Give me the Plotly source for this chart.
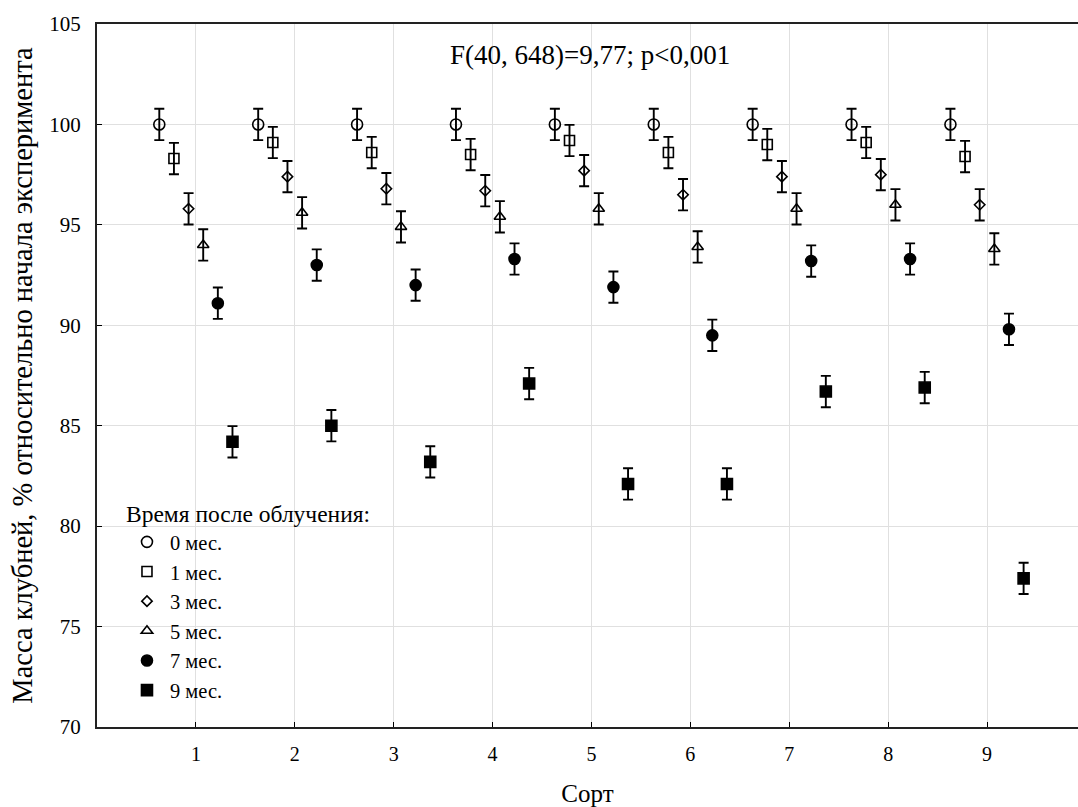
import plotly.graph_objects as go

# ---- data ----
categories = [1, 2, 3, 4, 5, 6, 7, 8, 9]
series_names = ["0 мес.", "1 мес.", "3 мес.", "5 мес.", "7 мес.", "9 мес."]
m0 = [100.0, 100.0, 100.0, 100.0, 100.0, 100.0, 100.0, 100.0, 100.0]
m1 = [98.3, 99.1, 98.6, 98.5, 99.2, 98.6, 99.0, 99.1, 98.4]
m3 = [95.8, 97.4, 96.8, 96.7, 97.7, 96.5, 97.4, 97.5, 96.0]
m5 = [94.0, 95.6, 94.9, 95.4, 95.8, 93.9, 95.8, 96.0, 93.8]
m7 = [91.1, 93.0, 92.0, 93.3, 91.9, 89.5, 93.2, 93.3, 89.8]
m9 = [84.2, 85.0, 83.2, 87.1, 82.1, 82.1, 86.7, 86.9, 77.4]
ci_half = [0.78, 0.78, 0.78, 0.78, 0.78, 0.78]
y_ticks = [70, 75, 80, 85, 90, 95, 100, 105]
stat_text = "F(40, 648)=9,77; p<0,001"
legend_title = "Время после облучения:"
x_title = "Сорт"
y_title = "Масса клубней, % относительно начала эксперимента"

means = [m0, m1, m3, m5, m7, m9]

# ---- styles ----
offsets = [-0.37, -0.222, -0.074, 0.074, 0.222, 0.37]
symbols = ["circle-open", "square-open", "diamond-open", "triangle-up-open", "circle", "square"]
sizes = [11, 10, 8, 10, 11, 11]
FONT = "Liberation Serif, Times New Roman, serif"

fig = go.Figure()
for name, vals, off, sym, sz, e in zip(series_names, means, offsets, symbols, sizes, ci_half):
    fig.add_trace(go.Scatter(
        x=[c + off for c in categories],
        y=vals,
        mode="markers",
        name=name,
        marker=dict(symbol=sym, size=sz, color="black",
                    line=dict(color="black", width=1.6)),
        error_y=dict(type="constant", value=e, color="black",
                     thickness=1.9, width=5),
    ))

fig.add_annotation(
    x=0.5025, y=0.956, xref="paper", yref="paper",
    text=stat_text, showarrow=False,
    xanchor="center", yanchor="middle",
    font=dict(family=FONT, size=27, color="black"),
)

fig.update_layout(
    width=1078, height=807,
    margin=dict(l=97, r=0, t=24, b=80),
    paper_bgcolor="white", plot_bgcolor="white",
    font=dict(family=FONT, color="black"),
    showlegend=True,
    legend=dict(
        x=0.0275, y=0.335, xanchor="left", yanchor="top",
        bgcolor="rgba(0,0,0,0)",
        title=dict(text=legend_title, font=dict(family=FONT, size=23.5)),
        font=dict(family=FONT, size=20.5),
        tracegroupgap=0, itemwidth=36,
    ),
    xaxis=dict(
        range=[0, 9.92], tickvals=categories, ticktext=[str(c) for c in categories],
        ticks="inside", ticklen=5, tickcolor="black", tickwidth=1,
        showgrid=True, gridcolor="#e0e0e0", gridwidth=1,
        showline=True, linecolor="#222222", linewidth=2, mirror=True,
        zeroline=False,
        tickfont=dict(family=FONT, size=20),
        ticklabelstandoff=8,
        title=dict(text=x_title, font=dict(family=FONT, size=25), standoff=22),
    ),
    yaxis=dict(
        range=[70, 105], tickvals=y_ticks,
        ticks="inside", ticklen=5, tickcolor="black", tickwidth=1,
        showgrid=True, gridcolor="#e0e0e0", gridwidth=1,
        showline=True, linecolor="#222222", linewidth=2, mirror=False,
        zeroline=False,
        tickfont=dict(family=FONT, size=21),
        ticklabelstandoff=10,
        title=dict(text=y_title, font=dict(family=FONT, size=28.5), standoff=8),
    ),
)

fig.write_html("out.html")
